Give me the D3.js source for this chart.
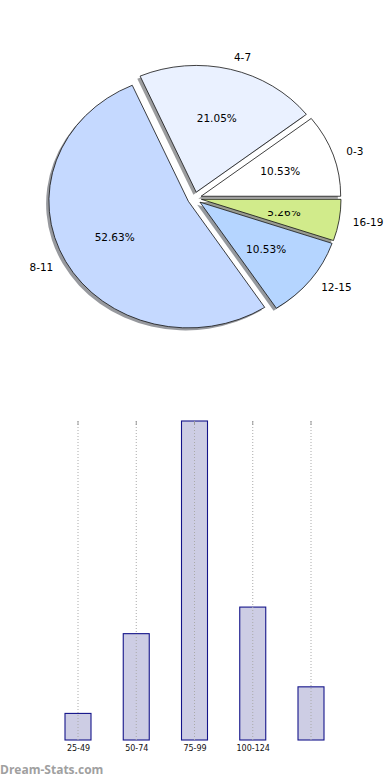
<html>
<head>
    <meta charset="utf-8">
    <title>Age distribution</title>
    <style>
        body {
            margin: 0;
            background: white;
            font-family: "DejaVu Sans", sans-serif;
        }
        .grid line {
            stroke: #aaaaaa;
            stroke-dasharray: 1, 2;
        }
    </style>
    <script src="https://cdn.jsdelivr.net/npm/d3@7"></script>
</head>
<body>
<div class="mainView"></div>
<script>
    // pie: age groups (share of 19)
    let pieLabels = ["0-3", "4-7", "8-11", "12-15", "16-19"];
    let pieValues = [2, 4, 10, 2, 1];
    let pieColors = ["#ffffff", "#eaf1ff", "#c5d9ff", "#b5d5ff", "#d1eb8b"];
    let pieExplode = [0.05, 0.05, 0.05, 0.05, 0.05];

    // bars
    let barCategories = ["25-49", "50-74", "75-99", "100-124", "125-149"];
    let barTickLabels = ["25-49", "50-74", "75-99", "100-124", ""];
    let barValues = [1, 4, 12, 5, 2];

    function getChartConfig() {
        let width = 390;
        let height = 780;
        let svg = d3.select(".mainView")
            .append("svg")
            .attr("width", width)
            .attr("height", height);
        return { width, height, svg };
    }

    function drawPie(config) {
        let { svg } = config;
        let cx = 194.5, cy = 198.3, rx = 139.6, ry = 126.7;
        let total = d3.sum(pieValues);

        // matplotlib goes counter clockwise from 3 o'clock
        let pie = d3.pie().sort(null)
            .startAngle(Math.PI / 2)
            .endAngle(Math.PI / 2 - 2 * Math.PI);
        let arcs = pie(pieValues);
        let arc = d3.arc().innerRadius(0).outerRadius(1);

        let g = svg.append("g");
        let slices = arcs.map((d, i) => {
            let mid = (d.startAngle + d.endAngle) / 2;
            let e = pieExplode[i];
            return {
                d: d, i: i, mid: mid,
                x: cx + e * rx * Math.sin(mid),
                y: cy - e * ry * Math.cos(mid)
            };
        });

        // shadows first, below all wedges
        g.selectAll(".shadow")
            .data(slices)
            .enter()
            .append("path")
            .attr("class", "shadow")
            .attr("d", s => arc(s.d))
            .attr("transform", s => "translate(" + [s.x - 0.02 * rx, s.y + 0.02 * ry] + ") scale(" + [rx, ry] + ")")
            .attr("fill", s => d3.rgb(pieColors[s.i]).darker(4))
            .attr("opacity", 0.5);

        g.selectAll(".wedge")
            .data(slices)
            .enter()
            .append("path")
            .attr("class", "wedge")
            .attr("d", s => arc(s.d))
            .attr("transform", s => "translate(" + [s.x, s.y] + ") scale(" + [rx, ry] + ")")
            .attr("fill", s => pieColors[s.i])
            .attr("stroke", "#111")
            .attr("stroke-width", 0.8)
            .attr("vector-effect", "non-scaling-stroke");

        // outer labels at 1.1 radius
        g.selectAll(".lbl")
            .data(slices)
            .enter()
            .append("text")
            .attr("class", "lbl")
            .attr("x", s => s.x + 1.1 * rx * Math.sin(s.mid))
            .attr("y", s => s.y - 1.1 * ry * Math.cos(s.mid))
            .attr("dy", "0.35em")
            .attr("text-anchor", s => Math.sin(s.mid) >= 0 ? "start" : "end")
            .style("font-size", "10.5px")
            .text(s => pieLabels[s.i]);

        // percentages at 0.6 radius
        let defs = svg.append("defs");
        g.selectAll(".pct")
            .data(slices)
            .enter()
            .append("text")
            .attr("class", "pct")
            .attr("x", s => s.x + 0.6 * rx * Math.sin(s.mid))
            .attr("y", s => s.y - 0.6 * ry * Math.cos(s.mid))
            .attr("dy", "0.35em")
            .attr("text-anchor", "middle")
            .style("font-size", "10.5px")
            .attr("clip-path", s => {
                // the smallest label is partly hidden in the original
                if (s.i !== 4) return null;
                let py = s.y - 0.6 * ry * Math.cos(s.mid);
                defs.append("clipPath").attr("id", "pctClip")
                    .append("rect")
                    .attr("x", 0).attr("y", py - 0.8)
                    .attr("width", 390).attr("height", 40);
                return "url(#pctClip)";
            })
            .text(s => (pieValues[s.i] / total * 100).toFixed(2) + "%");
    }

    function drawBars(config) {
        let { svg } = config;
        let bottom = 740, top = 421;
        let barWidth = 26;

        let xScale = d3.scalePoint()
            .domain(barCategories)
            .range([78, 311]);
        let yScale = d3.scaleLinear()
            .domain([0, d3.max(barValues)])
            .range([bottom, top]);

        let g = svg.append("g");
        g.selectAll("rect")
            .data(barValues)
            .enter()
            .append("rect")
            .attr("x", (d, i) => xScale(barCategories[i]) - barWidth / 2)
            .attr("y", d => yScale(d))
            .attr("width", barWidth)
            .attr("height", d => bottom - yScale(d))
            .attr("fill", "#cdcde4")
            .attr("stroke", "#14148a")
            .attr("stroke-width", 1.1);

        // dotted grid over bars
        let grid = g.append("g").attr("class", "grid");
        barCategories.forEach(c => {
            grid.append("line")
                .attr("x1", xScale(c)).attr("x2", xScale(c))
                .attr("y1", top).attr("y2", bottom);
            grid.append("line")
                .attr("x1", xScale(c)).attr("x2", xScale(c))
                .attr("y1", top).attr("y2", top + 4)
                .style("stroke", "#999")
                .style("stroke-dasharray", "none");
        });

        let axisX = d3.axisBottom(xScale)
            .tickSize(0)
            .tickPadding(5)
            .tickFormat((d, i) => barTickLabels[i]);
        let ax = g.append("g")
            .attr("transform", "translate(0," + bottom + ")")
            .call(axisX);
        ax.select(".domain").remove();
        ax.selectAll("text")
            .style("font-family", "DejaVu Sans, sans-serif")
            .style("font-size", "8px")
            .attr("fill", "#111");

        svg.append("text")
            .attr("x", 0)
            .attr("y", 774)
            .style("font-family", "Open Sans, sans-serif")
            .style("font-weight", "bold")
            .style("font-size", "12px")
            .attr("fill", "#a0a0a0")
            .text("Dream-Stats.com");
    }

    function showData() {
        let config = getChartConfig();
        drawPie(config);
        drawBars(config);
    }
    showData();
</script>
</body>
</html>
